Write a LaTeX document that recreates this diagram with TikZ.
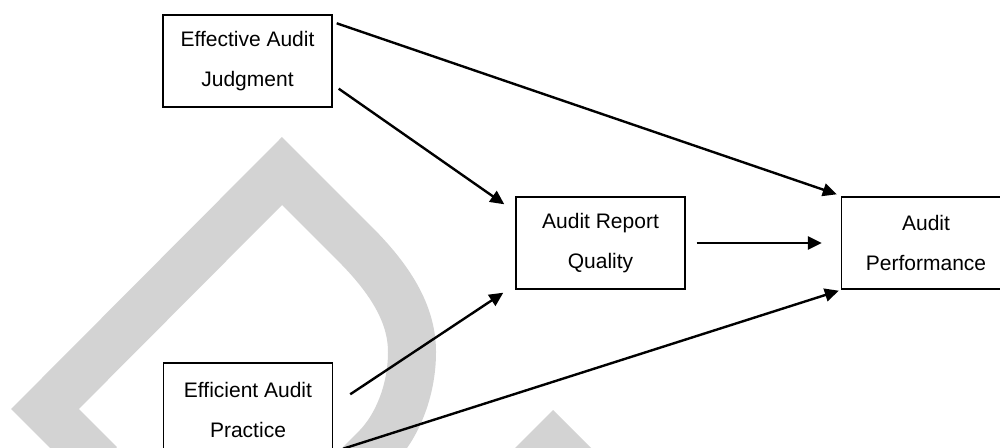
\documentclass[tikz,border=0pt]{standalone}
\usepackage{fontspec}
\setmainfont{Liberation Sans}
\usetikzlibrary{arrows.meta}
\definecolor{wmgray}{RGB}{211,211,211}

\begin{document}
\begin{tikzpicture}[x=0.5pt,y=-0.5pt,
    box/.style={draw,line width=0.7pt,align=center,font=\fontsize{10.5}{20}\selectfont,minimum width=84.5pt,minimum height=46pt,inner sep=0pt},
    arr/.style={line width=1.2pt,-{Triangle[length=7pt,width=6.5pt]}}]
        \useasboundingbox(0,0)rectangle(1000,448);
        \clip(0,0)rectangle(1000,448);
        % watermark in the back
        \draw[wmgray,line width=24pt,line join=miter](100,464)--(45,409)--(282,171)--(355,244)
            ..controls(395,284)and(412,318)..(412,352)..controls(412,392)and(396,428)..(376,448)--(356,468);
        \fill[wmgray](553,410)--(503,460)--(603,460)--cycle;
        \node[box](ej)at(247.5,61){Effective Audit\\Judgment};
        \node[box](arq)at(600.5,243){Audit Report\\Quality};
        \node[box](ap)at(926,243){Audit\\Performance};
        \node[box,minimum height=47pt](ep)at(248,410){Efficient Audit\\Practice};
        \draw[arr]([shift={(4,9)}]ej.north east)--([shift={(-4,-2)}]ap.north west);
        \draw[arr]([shift={(6,-19)}]ej.south east)--([shift={(-11,8)}]arq.north west);
        \draw[arr]([shift={(11,0)}]arq.east)--([shift={(-19,0)}]ap.west);
        \draw[arr]([shift={(17,32)}]ep.north east)--([shift={(-12,3)}]arq.south west);
        \draw[arr]([shift={(10,-9)}]ep.south east)--([shift={(-2,1)}]ap.south west);
    \end{tikzpicture}
\end{document}
